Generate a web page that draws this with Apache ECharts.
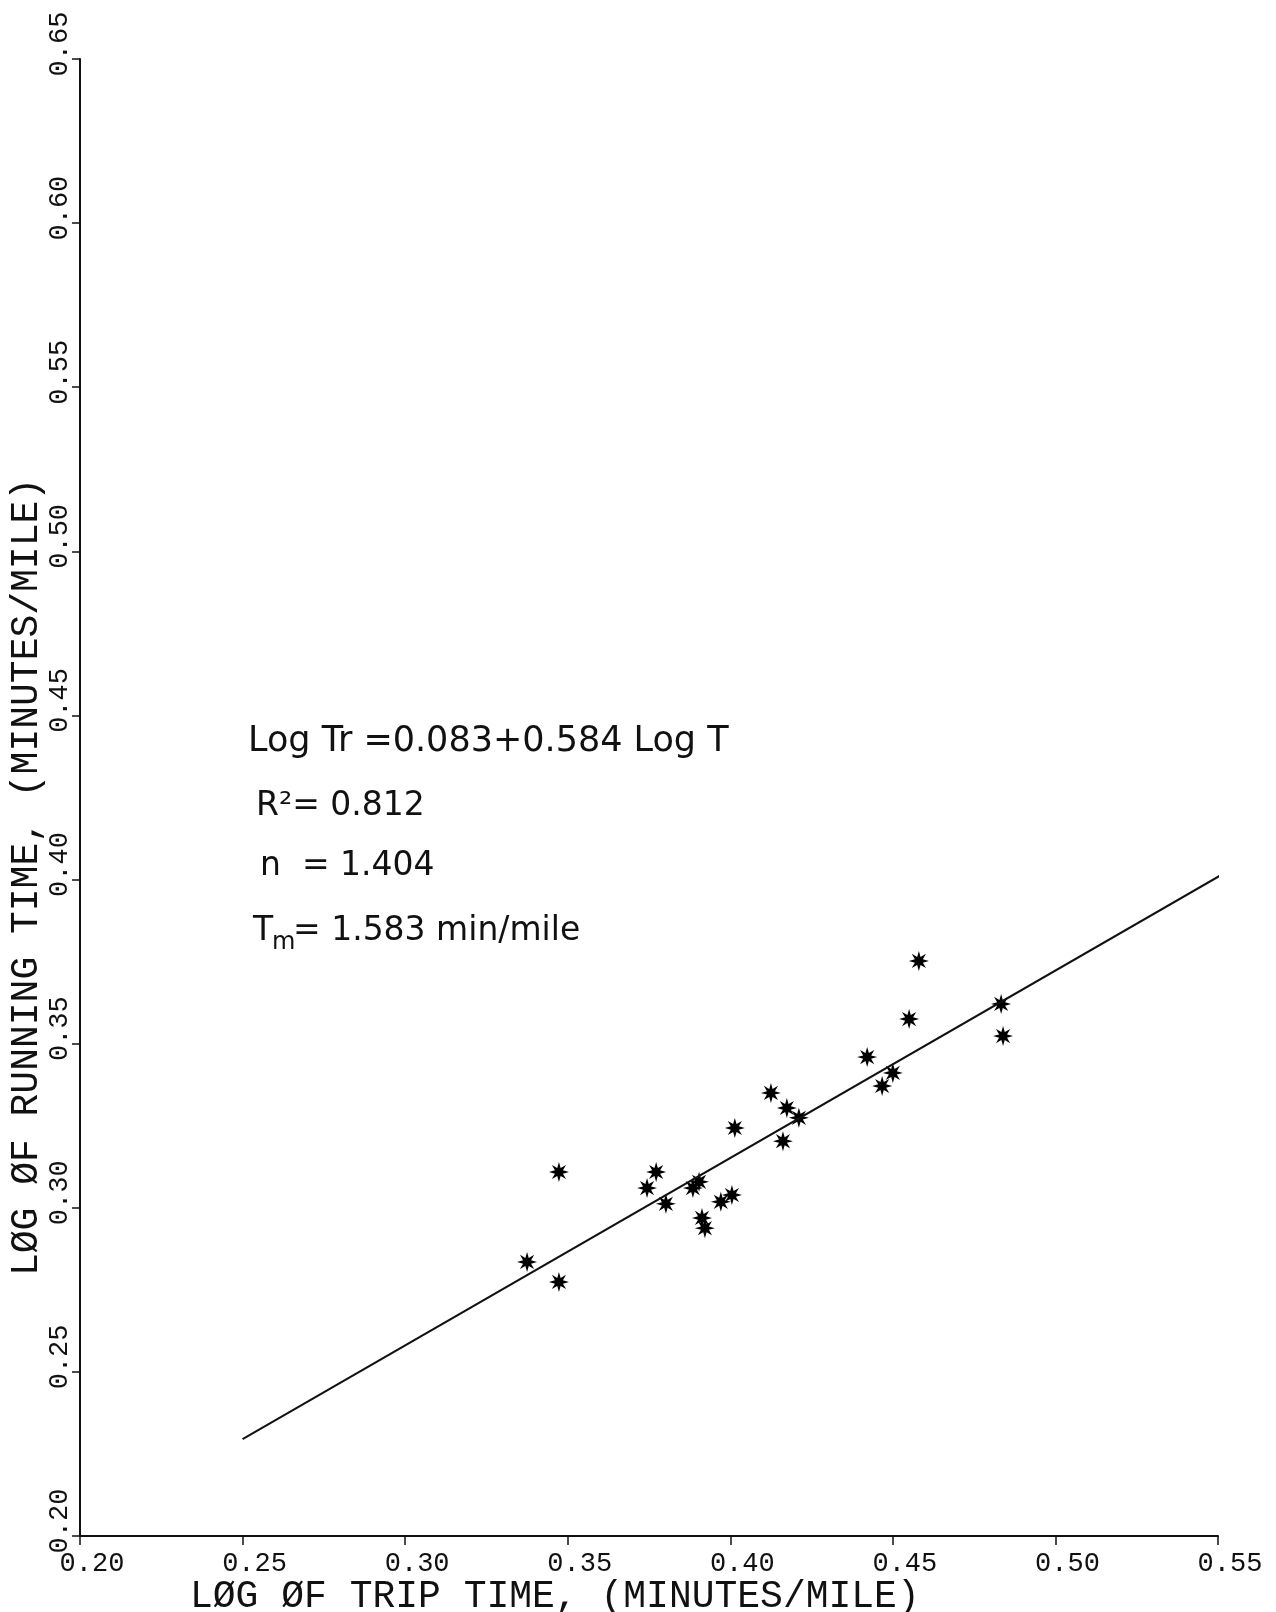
<!DOCTYPE html>
<html>
<head>
<meta charset="utf-8">
<script src="https://cdn.jsdelivr.net/npm/echarts@6/dist/echarts.min.js"></script>
<style>
  html, body { margin: 0; background: #fff; }
  #chart { width: 1276px; height: 1612px; }
</style>
</head>
<body>
<div id="chart"></div>
<script>
// log of trip time (x) and log of running time (y), min/mile
const tripTime = [0.3375, 0.3473, 0.3473, 0.3744, 0.3772, 0.3802, 0.3885, 0.3904, 0.3913, 0.3922, 0.3971, 0.4005,
  0.4014, 0.4125, 0.4162, 0.4174, 0.4211, 0.4421, 0.4467, 0.4500, 0.4550, 0.4580, 0.4833, 0.4839]
const runTime = [0.2835, 0.3109, 0.2774, 0.3060, 0.3109, 0.3012, 0.3060, 0.3079, 0.2969, 0.2938, 0.3018, 0.3039,
  0.3243, 0.3350, 0.3203, 0.3304, 0.3274, 0.3459, 0.3371, 0.3411, 0.3575, 0.3752, 0.3621, 0.3523]
// fitted line end points
const fitX = [0.25, 0.551]
const fitY = [0.2295, 0.4014]
// axis ranges: min, max, step
const xRange = [0.20, 0.55, 0.05]
const yRange = [0.20, 0.65, 0.05]

const starPath = 'path://M0,-100L17,-40L71,-71L40,-17L100,0L40,17L71,71L17,40L0,100L-17,40L-71,71L-40,17L-100,0L-40,-17L-71,-71L-17,-40Z'
const tickFont = 'Liberation Mono'

const myChart = echarts.init(document.getElementById('chart'))
let option = {
  animation: false,
  backgroundColor: '#fff',
  grid: {
    left: 80,
    right: 58,
    top: 59,
    bottom: 76,
    containLabel: false,
    outerBoundsMode: 'none'
  },
  xAxis: {
    type: 'value',
    min: xRange[0],
    max: xRange[1],
    interval: xRange[2],
    splitLine: { show: false },
    axisLine: { show: true, onZero: false, lineStyle: { color: '#111', width: 2 } },
    axisTick: { show: true, length: 9, lineStyle: { color: '#111', width: 1.5 } },
    axisLabel: {
      color: '#111',
      fontFamily: tickFont,
      fontSize: 27,
      margin: 14,
      padding: [0, 0, 0, 24],
      formatter: v => v.toFixed(2)
    }
  },
  yAxis: {
    type: 'value',
    min: yRange[0],
    max: yRange[1],
    interval: yRange[2],
    splitLine: { show: false },
    axisLine: { show: true, onZero: false, lineStyle: { color: '#111', width: 2 } },
    axisTick: { show: true, length: 8, lineStyle: { color: '#111', width: 1.5 } },
    axisLabel: {
      color: '#111',
      fontFamily: tickFont,
      fontSize: 27,
      rotate: 90,
      margin: 7,
      padding: [0, 0, 0, 30],
      formatter: v => v.toFixed(2)
    }
  },
  graphic: [
    {
      type: 'text', x: 190, y: 1597,
      style: { text: 'LØG ØF TRIP TIME, (MINUTES/MILE)', fill: '#111', font: '38px "Liberation Mono"', align: 'left', verticalAlign: 'middle' }
    },
    {
      type: 'text', x: 27, y: 877, rotation: Math.PI / 2,
      style: { text: 'LØG ØF RUNNING TIME, (MINUTES/MILE)', fill: '#111', font: '38px "Liberation Mono"', align: 'center', verticalAlign: 'middle' }
    },
    {
      type: 'text', x: 248, y: 742,
      style: { text: 'Log Tr =0.083+0.584 Log T', fill: '#111', font: '35px "DejaVu Sans"', align: 'left', verticalAlign: 'middle' }
    },
    {
      type: 'text', x: 256, y: 806,
      style: { text: 'R²= 0.812', fill: '#111', font: '33px "DejaVu Sans"', align: 'left', verticalAlign: 'middle' }
    },
    {
      type: 'text', x: 260, y: 866,
      style: { text: 'n  = 1.404', fill: '#111', font: '33px "DejaVu Sans"', align: 'left', verticalAlign: 'middle' }
    },
    {
      type: 'text', x: 253, y: 931,
      style: { text: 'T', fill: '#111', font: '33px "DejaVu Sans"', align: 'left', verticalAlign: 'middle' }
    },
    {
      type: 'text', x: 272, y: 943,
      style: { text: 'm', fill: '#111', font: '24px "DejaVu Sans"', align: 'left', verticalAlign: 'middle' }
    },
    {
      type: 'text', x: 293, y: 931,
      style: { text: '= 1.583 min/mile', fill: '#111', font: '33px "DejaVu Sans"', align: 'left', verticalAlign: 'middle' }
    }
  ],
  series: [
    {
      type: 'line',
      data: fitX.map((x, i) => [x, fitY[i]]),
      symbol: 'none',
      silent: true,
      lineStyle: { color: '#111', width: 2 }
    },
    {
      type: 'scatter',
      data: tripTime.map((x, i) => [x, runTime[i]]),
      symbol: starPath,
      symbolSize: 20,
      itemStyle: { color: '#000', opacity: 1 }
    }
  ]
}
myChart.setOption(option)
</script>
</body>
</html>
